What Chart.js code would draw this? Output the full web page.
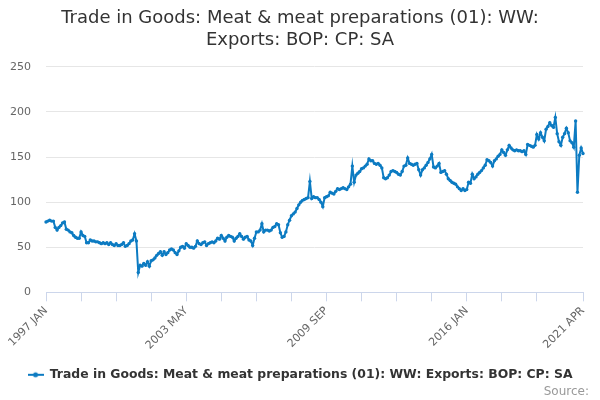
<!DOCTYPE html>
<html>
<head>
<meta charset="utf-8">
<script src="https://cdn.jsdelivr.net/npm/chart.js@4.4.1/dist/chart.umd.min.js"></script>
<style>
  html, body { margin: 0; padding: 0; background: #ffffff; }
  #wrap { width: 600px; height: 400px; position: relative; }
</style>
</head>
<body>
<div id="wrap"><canvas id="chart" width="600" height="400"></canvas></div>
<script>
// ---------- data ----------
const startYear = 1997;
const monthNames = ['JAN','FEB','MAR','APR','MAY','JUN','JUL','AUG','SEP','OCT','NOV','DEC'];
const titleLines = ['Trade in Goods: Meat & meat preparations (01): WW:', 'Exports: BOP: CP: SA'];
const seriesName = 'Trade in Goods: Meat & meat preparations (01): WW: Exports: BOP: CP: SA';
const sourceText = 'Source:';

// monthly values, £ million
const exportsValues = [
  78, 79, 80, 79, 79, 72, 69, 72, 74, 77, 78, 70,            // 1997
  69, 67, 66, 63, 61, 60, 60, 67, 63, 62, 55, 55,            // 1998
  58, 57, 57, 56, 56, 55, 54, 55, 54, 55, 53, 55,            // 1999
  53, 52, 54, 52, 52, 53, 55, 51, 52, 54, 57, 58,            // 2000
  65, 57, 22, 30, 29, 32, 30, 34, 29, 35, 36, 38,            // 2001
  41, 43, 45, 41, 45, 42, 44, 47, 48, 47, 44, 42,            // 2002
  46, 50, 51, 49, 54, 52, 50, 50, 49, 51, 57, 54,            // 2003
  53, 55, 56, 52, 54, 55, 56, 55, 57, 60, 59, 63,            // 2004
  60, 57, 61, 63, 62, 61, 57, 60, 62, 65, 62, 59,            // 2005
  61, 62, 58, 57, 52, 60, 67, 67, 69, 76, 67, 69,            // 2006
  69, 68, 69, 72, 73, 76, 75, 66, 61, 62, 67, 75,            // 2007
  80, 85, 87, 89, 93, 97, 100, 102, 103, 104, 105, 123,      // 2008
  104, 106, 105, 105, 103, 100, 95, 105, 106, 107, 111, 110, // 2009
  109, 112, 115, 114, 115, 116, 115, 114, 117, 120, 140, 122,// 2010
  130, 132, 134, 137, 138, 140, 142, 148, 146, 146, 143, 142,// 2011
  143, 141, 138, 127, 126, 127, 130, 134, 135, 134, 133, 131,// 2012
  130, 134, 140, 141, 149, 143, 142, 141, 142, 143, 136, 130,// 2013
  136, 138, 141, 144, 148, 153, 139, 138, 140, 143, 133, 134,// 2014
  135, 131, 126, 124, 122, 121, 120, 117, 115, 113, 115, 113,// 2015
  114, 122, 121, 131, 126, 128, 131, 133, 135, 138, 141, 147,// 2016
  146, 144, 140, 146, 148, 151, 153, 158, 155, 152, 158, 163,// 2017
  160, 158, 157, 158, 157, 157, 156, 157, 153, 164, 163, 162,// 2018
  161, 163, 175, 170, 177, 172, 168, 181, 184, 188, 185, 183,// 2019
  194, 176, 167, 163, 172, 176, 182, 177, 168, 166, 161, 190,// 2020
  111, 152, 160, 154                                         // 2021
];

const categories = exportsValues.map((_, i) =>
  (startYear + Math.floor(i / 12)) + ' ' + monthNames[i % 12]);

const xTickLabels = ['1997 JAN', '2003 MAY', '2009 SEP', '2016 JAN', '2021 APR'];
const xTickStep = 19;       // months between x-axis tick marks
const yMin = 0, yMax = 250, yStep = 50;

// ---------- styling ----------
const lineColor = '#0c7bc2';
const axisColor = '#ccd6eb';
const gridColor = '#e6e6e6';
const labelColor = '#666666';
const textColor = '#333333';
Chart.defaults.font.family = '"DejaVu Sans", "Liberation Sans", sans-serif';

// legend symbol: short line with a dot
const legendIcon = document.createElement('canvas');
legendIcon.width = 16; legendIcon.height = 8;
(function () {
  const g = legendIcon.getContext('2d');
  g.strokeStyle = lineColor; g.lineWidth = 2;
  g.beginPath(); g.moveTo(0, 4); g.lineTo(16, 4); g.stroke();
  g.fillStyle = lineColor;
  g.beginPath(); g.arc(8, 4, 2.5, 0, Math.PI * 2); g.fill();
})();

const lastIndex = categories.length - 1;
function isTickMark(i) {
  return (i % xTickStep === 0 && i + xTickStep / 2 < lastIndex) || i === lastIndex;
}

const sourcePlugin = {
  id: 'sourceCredit',
  afterDraw(chart) {
    const c = chart.ctx;
    c.save();
    c.font = '12px "DejaVu Sans", sans-serif';
    c.fillStyle = '#999999';
    c.textAlign = 'right';
    c.textBaseline = 'alphabetic';
    c.fillText(sourceText, 589, 395);
    c.restore();
  }
};

new Chart(document.getElementById('chart'), {
  type: 'line',
  data: {
    labels: categories,
    datasets: [{
      label: seriesName,
      data: exportsValues,
      borderColor: lineColor,
      backgroundColor: lineColor,
      borderWidth: 2,
      pointRadius: 1.7,
      pointBorderWidth: 0,
      pointBackgroundColor: lineColor,
      pointHoverRadius: 3,
      tension: 0
    }]
  },
  options: {
    responsive: false,
    animation: false,
    layout: { padding: { left: 9, right: 9, top: 0, bottom: 9 } },
    plugins: {
      title: {
        display: true,
        text: titleLines,
        color: textColor,
        font: { size: 18, weight: 'normal', lineHeight: 1.22 },
        padding: { top: 7, bottom: 16 }
      },
      legend: {
        position: 'bottom',
        labels: {
          usePointStyle: true,
          pointStyle: legendIcon,
          pointStyleWidth: 16,
          color: textColor,
          font: { size: 12.4, weight: 'bold' },
          padding: 13.5
        }
      },
      tooltip: { enabled: false }
    },
    scales: {
      x: {
        type: 'category',
        offset: false,
        afterFit: (scale) => { scale.paddingLeft = 0; scale.paddingRight = 17; },
        grid: {
          drawOnChartArea: false,
          tickLength: 9,
          color: (ctx) => isTickMark(ctx.index) ? axisColor : 'rgba(0,0,0,0)',
          tickColor: (ctx) => isTickMark(ctx.index) ? axisColor : 'rgba(0,0,0,0)'
        },
        border: { color: axisColor, width: 1 },
        ticks: {
          autoSkip: false,
          minRotation: 45,
          maxRotation: 45,
          color: labelColor,
          font: { size: 11 },
          padding: 3,
          callback: (value, index) =>
            xTickLabels.includes(categories[index]) ? categories[index] : ''
        }
      },
      y: {
        min: yMin,
        max: yMax,
        afterFit: (scale) => { scale.width = 37; },
        ticks: { stepSize: yStep, color: labelColor, font: { size: 11 }, padding: 15 },
        grid: {
          drawTicks: false,
          color: (ctx) => (ctx.tick && ctx.tick.value === 0) ? 'rgba(0,0,0,0)' : gridColor
        },
        border: { display: false }
      }
    }
  },
  plugins: [sourcePlugin]
});
</script>
</body>
</html>
